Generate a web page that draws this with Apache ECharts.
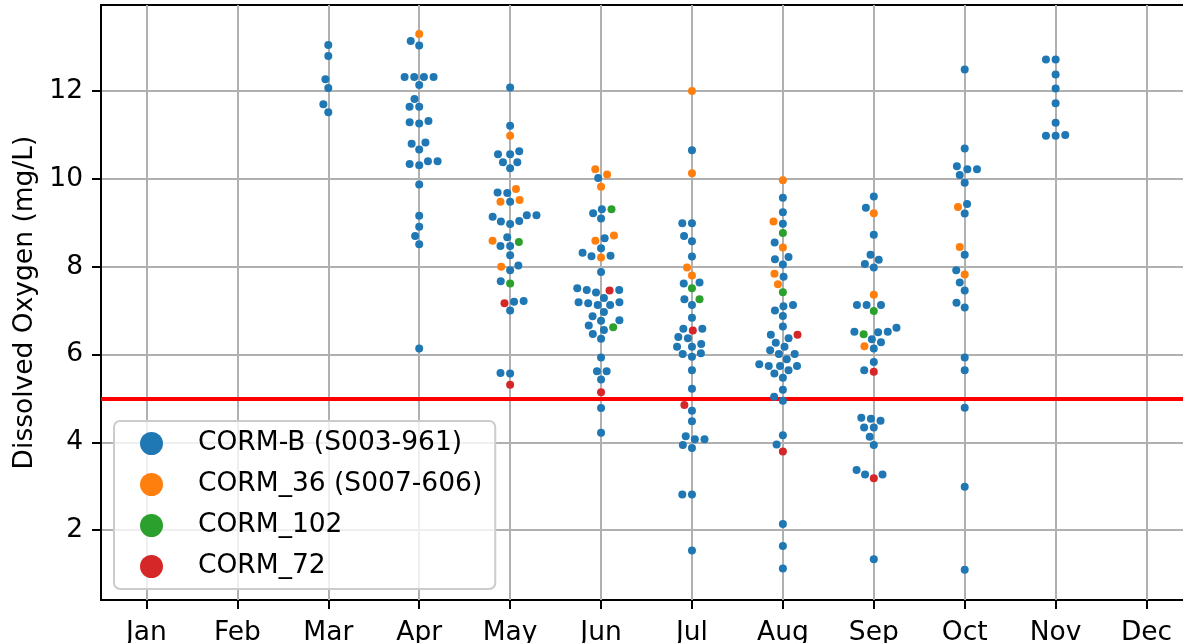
<!DOCTYPE html>
<html>
<head>
<meta charset="utf-8">
<script src="https://cdn.jsdelivr.net/npm/echarts@6/dist/echarts.min.js"></script>
<style>
  html, body { margin: 0; padding: 0; background: #fff; }
  #chart { width: 1183px; height: 643px; }
</style>
</head>
<body>
<div id="chart"></div>
<script>
const months = ['Jan', 'Feb', 'Mar', 'Apr', 'May', 'Jun', 'Jul', 'Aug', 'Sep', 'Oct', 'Nov', 'Dec'];
const yTicks = [2, 4, 6, 8, 10, 12];
const sites = ['CORM-B (S003-961)', 'CORM_36 (S007-606)', 'CORM_102', 'CORM_72'];
const siteColors = ['#1f77b4', '#ff7f0e', '#2ca02c', '#d62728'];
const doLimit = 5;

// Dissolved oxygen readings (mg/L), grouped by sampling month, one list per site
const cormB = [
  ['Mar', [13.05, 12.80, 12.27, 12.07, 11.70, 11.52]],
  ['Apr', [13.14, 13.04, 12.32, 12.32, 12.32, 12.32, 12.14, 11.82, 11.64, 11.64, 11.32, 11.29, 11.26,
           10.83, 10.80, 10.67, 10.40, 10.40, 10.34, 10.31, 9.87, 9.16, 8.91, 8.70, 8.51, 6.14]],
  ['May', [12.08, 11.21, 10.63, 10.56, 10.56, 10.38, 10.38, 10.24, 9.69, 9.68, 9.48, 9.17, 9.17, 9.14,
           9.04, 9.03, 8.97, 8.67, 8.47, 8.47, 8.26, 8.03, 7.92, 7.67, 7.22, 7.20, 7.00, 5.58, 5.57]],
  ['Jun', [10.02, 9.31, 9.22, 9.10, 8.65, 8.42, 8.32, 8.25, 8.24, 7.88, 7.51, 7.47, 7.47, 7.41, 7.29,
           7.19, 7.19, 7.17, 7.13, 7.13, 6.97, 6.87, 6.78, 6.77, 6.66, 6.56, 6.47, 6.36, 5.93, 5.62,
           5.62, 5.43, 4.78, 4.22]],
  ['Jul', [10.65, 8.99, 8.99, 8.70, 8.58, 8.23, 7.64, 7.62, 7.26, 7.13, 6.84, 6.59, 6.59, 6.40, 6.37,
           6.24, 6.18, 6.18, 6.03, 6.01, 5.95, 5.64, 5.22, 4.72, 4.48, 4.14, 4.07, 4.07, 3.94, 3.87,
           2.81, 2.81, 1.54]],
  ['Aug', [9.57, 9.24, 8.98, 8.55, 8.22, 8.17, 8.05, 7.77, 7.13, 7.10, 7.00, 6.88, 6.64, 6.45, 6.37,
           6.27, 6.18, 6.10, 6.01, 6.01, 5.89, 5.78, 5.74, 5.74, 5.74, 5.64, 5.57, 5.47, 5.20, 5.04,
           4.95, 4.16, 3.95, 2.14, 1.64, 1.13]],
  ['Sep', [9.60, 9.34, 8.73, 8.27, 8.16, 8.06, 7.98, 7.13, 7.13, 7.13, 6.61, 6.52, 6.52, 6.51, 6.35,
           6.28, 6.14, 5.83, 5.64, 4.56, 4.54, 4.49, 4.34, 4.34, 4.13, 3.94, 3.37, 3.27, 3.27, 1.34]],
  ['Oct', [12.49, 10.69, 10.29, 10.22, 10.22, 10.09, 9.91, 9.43, 9.21, 8.27, 7.92, 7.64, 7.46, 7.18,
           7.07, 5.93, 5.64, 4.79, 2.99, 1.10]],
  ['Nov', [12.72, 12.72, 12.38, 12.06, 11.72, 11.28, 11.00, 10.98, 10.98]]
];
const corm36 = [
  ['Apr', [13.30]],
  ['May', [10.98, 9.77, 9.52, 9.48, 8.59, 8.00]],
  ['Jun', [10.22, 10.10, 9.82, 8.71, 8.59, 8.21]],
  ['Jul', [12.00, 10.13, 7.98, 7.80]],
  ['Aug', [9.97, 9.03, 8.44, 7.84, 7.60]],
  ['Sep', [9.22, 7.36, 6.19]],
  ['Oct', [9.36, 8.45, 7.82]]
];
const corm102 = [
  ['May', [8.56, 7.62]],
  ['Jun', [9.31, 6.62]],
  ['Jul', [7.51, 7.26]],
  ['Aug', [8.77, 7.42]],
  ['Sep', [6.99, 6.46]]
];
const corm72 = [
  ['May', [7.17, 5.31]],
  ['Jun', [7.46, 5.14]],
  ['Jul', [6.55, 4.85]],
  ['Aug', [6.45, 3.79]],
  ['Sep', [5.61, 3.18]]
];

const FONT = 'DejaVu Sans';
const FS = 26.5;
const DOT = 8;        // marker diameter, px
const DOT_R = 4.6;    // collision radius used by the swarm layout, px

const siteRows = [cormB, corm36, corm102, corm72];
const samples = [];
siteRows.forEach((rows, s) => {
  rows.forEach(([m, vals]) => {
    vals.forEach(v => samples.push({ s, m: months.indexOf(m), v, dx: 0 }));
  });
});

function seriesData(s, unit) {
  return samples.filter(p => p.s === s).map(p => [p.m + (unit ? p.dx / unit : 0), p.v]);
}

// Beeswarm placement: points are added from lowest to highest value; each one takes
// the candidate position nearest the category centre that does not overlap a neighbour.
function swarm(group, r) {
  const order = group.slice().sort((a, b) => a.v - b.v);
  const placed = [];
  order.forEach(p => {
    const y = -p.py;
    const neighbors = [];
    for (let k = placed.length - 1; k >= 0; k--) {
      if (y - placed[k].y < 2 * r) neighbors.unshift(placed[k]);
      else break;
    }
    const cands = [0];
    let leftFirst = true;
    neighbors.forEach(n => {
      const dy = y - n.y;
      const dx = Math.sqrt(Math.max(4 * r * r - dy * dy, 0)) * 1.05;
      if (leftFirst) cands.push(n.x - dx, n.x + dx);
      else cands.push(n.x + dx, n.x - dx);
      leftFirst = !leftFirst;
    });
    const sorted = cands.map((x, i) => ({ x, i }))
      .sort((a, b) => (Math.abs(a.x) - Math.abs(b.x)) || (a.i - b.i));
    let chosen = sorted[0].x;
    for (const c of sorted) {
      const ok = neighbors.every(n => (n.x - c.x) ** 2 + (n.y - y) ** 2 >= 4 * r * r - 1e-6);
      if (ok) { chosen = c.x; break; }
    }
    placed.push({ x: chosen, y });
    p.dx = chosen;
  });
}

const chart = echarts.init(document.getElementById('chart'), null, { renderer: 'canvas' });

const option = {
  animation: false,
  backgroundColor: '#ffffff',
  textStyle: { fontFamily: FONT },
  grid: {
    left: 101, top: 5, right: -9, bottom: 43,
    show: true, borderColor: '#000', borderWidth: 2,
    containLabel: false, outerBoundsMode: 'none'
  },
  legend: {
    orient: 'vertical',
    left: 114, top: 421,
    padding: [9, 13, 9, 26],
    itemGap: 14,
    itemWidth: 23, itemHeight: 23,
    icon: 'circle',
    selectedMode: false,
    backgroundColor: 'rgba(255,255,255,0.8)',
    borderColor: '#cccccc', borderWidth: 2, borderRadius: 6,
    textStyle: { fontSize: FS, color: '#000', fontFamily: FONT, padding: [0, 0, 0, 30] },
    data: sites
  },
  xAxis: [
    {
      type: 'category',
      data: months,
      boundaryGap: true,
      axisLine: { show: true, onZero: false, lineStyle: { color: '#000', width: 2 } },
      axisTick: { show: true, interval: 0, alignWithLabel: true, length: 9, lineStyle: { color: '#000', width: 2 } },
      axisLabel: { interval: 0, color: '#000', fontSize: FS, fontFamily: FONT, margin: 20 },
      splitLine: { show: false }
    },
    { type: 'value', min: -0.5, max: 11.5, show: false }
  ],
  yAxis: {
    type: 'value',
    min: 0.41, max: 13.96, splitNumber: 7,
    name: 'Dissolved Oxygen (mg/L)',
    nameLocation: 'middle',
    nameGap: 52,
    nameTextStyle: { fontSize: FS, color: '#000', fontFamily: FONT },
    axisLine: { show: true, onZero: false, lineStyle: { color: '#000', width: 2 } },
    axisTick: { show: true, customValues: yTicks, length: 9, lineStyle: { color: '#000', width: 2 } },
    axisLabel: { customValues: yTicks, color: '#000', fontSize: FS, fontFamily: FONT, margin: 18 },
    splitLine: { show: true, lineStyle: { color: '#b0b0b0', width: 2 } }
  },
  series: sites.map((name, s) => ({
    type: 'scatter',
    name,
    xAxisIndex: 1,
    yAxisIndex: 0,
    symbol: 'circle',
    symbolSize: DOT,
    itemStyle: { color: siteColors[s], opacity: 1 },
    emphasis: { disabled: true },
    z: 3,
    data: seriesData(s, 0),
    markLine: s === 0 ? {
      silent: true,
      symbol: 'none',
      z: 1,
      label: { show: false },
      data: months.map((_, i) => ({ xAxis: i, lineStyle: { color: '#b0b0b0', width: 2, type: 'solid' } }))
        .concat([{ yAxis: doLimit, lineStyle: { color: '#ff0000', width: 4, type: 'solid' } }])
    } : undefined
  }))
};

chart.setOption(option);

// Spread each month's points into a swarm using the chart's own pixel scale
const toPx = (x, y) => chart.convertToPixel({ seriesIndex: 0 }, [x, y]);
const unit = toPx(1, 5)[0] - toPx(0, 5)[0];
samples.forEach(p => { p.py = toPx(p.m, p.v)[1]; });
for (let m = 0; m < months.length; m++) {
  swarm(samples.filter(p => p.m === m), DOT_R);
}
chart.setOption({ series: sites.map((_, s) => ({ data: seriesData(s, unit) })) });
</script>
</body>
</html>
